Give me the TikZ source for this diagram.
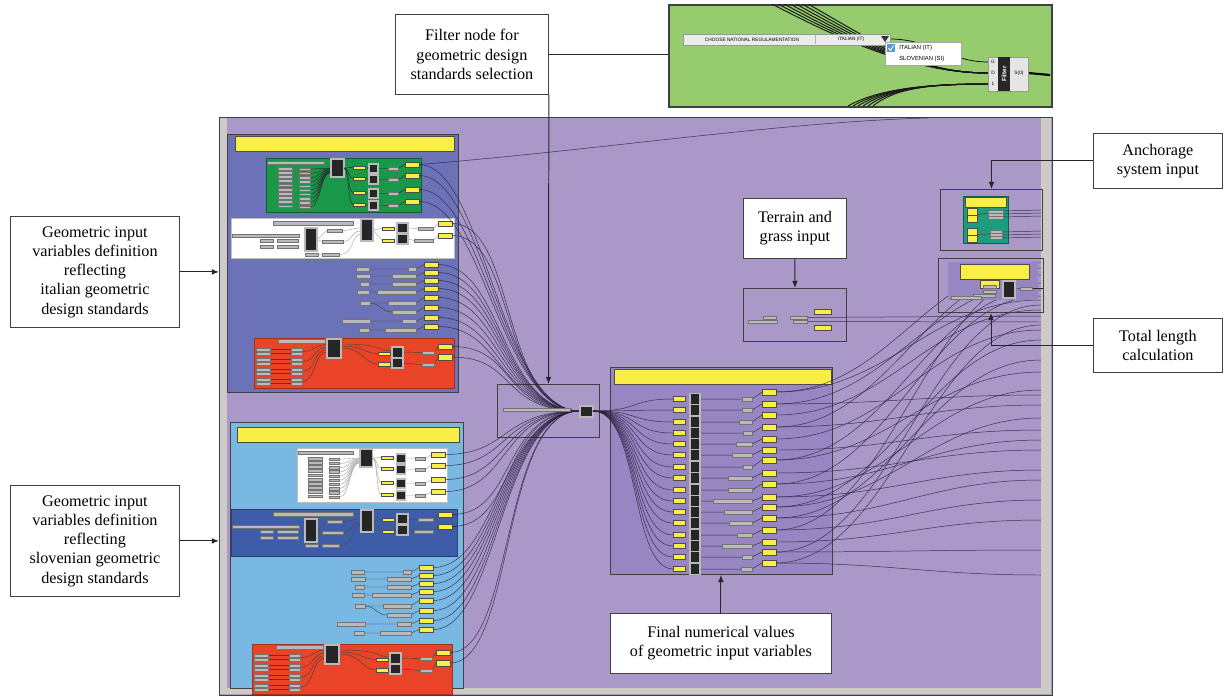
\documentclass[tikz,border=0pt]{standalone}
\usepackage{fontspec}
\setmainfont{Liberation Serif}
\setsansfont{Liberation Sans}
\usetikzlibrary{positioning,arrows.meta}

\definecolor{canvaspurple}{RGB}{169,152,200}
\definecolor{innerpurple}{RGB}{152,134,194}
\definecolor{groupblue}{RGB}{108,114,184}
\definecolor{groupsky}{RGB}{122,184,228}
\definecolor{bandblue}{RGB}{62,92,168}
\definecolor{leafgreen}{RGB}{24,152,72}
\definecolor{brickred}{RGB}{234,68,40}
\definecolor{panelgreen}{RGB}{150,204,110}
\definecolor{tealgreen}{RGB}{30,156,128}
\definecolor{ghyellow}{RGB}{248,238,70}
\definecolor{ghgrey}{RGB}{186,186,186}
\definecolor{stripgrey}{RGB}{206,202,198}
\definecolor{checkblue}{RGB}{90,150,215}
\definecolor{wirecol}{RGB}{40,30,60}

\newcommand{\stackblock}[1]{%
  \draw[gbar] (1,3) rectangle (58,6);
  \foreach \r in {0,...,9} {
    \draw[#1,line width=0.3pt] (44,11.2+4.2*\r) .. controls (55,11.2+4.2*\r) and (54,10+0.5*\r) .. (65,10+0.5*\r);
    \draw[gbar] (12,9+4.2*\r) rectangle (26,11.8+4.2*\r);
    \draw[gbar] (33,10+4.2*\r) rectangle (44,12.5+4.2*\r);
  }
  \draw[bcomp] (65,1) rectangle (78,19);
  \foreach \yy in {6,17,31,43} {
    \draw[#1,line width=0.3pt] (78,10) .. controls (83,10) and (82,\yy+3.5) .. (87,\yy+3.5);
    \draw[#1,line width=0.3pt] (99,\yy+3.5) -- (103,\yy+4.5) (112,\yy+4.5) -- (122,\yy+4.5) (132,\yy+4.5) -- (139,\yy+0.5);
    \draw[ybox] (87,\yy+2) rectangle (99,\yy+5);
    \draw[bcomp] (103,\yy) rectangle (112,\yy+9);
    \draw[gbar] (122,\yy+3) rectangle (132,\yy+6);
    \draw[ybox] (139,\yy-2) rectangle (153,\yy+3);
  }
}

\newcommand{\mixblock}[1]{%
  \draw[#1,line width=0.3pt] (86,21.5) -- (96,12.5) (86,21.5) -- (91,23.5) (87,36.5) -- (91,36.5)
    (111,12.5) .. controls (120,12.5) and (122,10) .. (130,10)
    (112,23.5) .. controls (122,23.5) and (120,13) .. (130,13)
    (108,36.5) .. controls (124,36.5) and (120,16) .. (130,16)
    (122,5) -- (130,5)
    (142,12) -- (151,10.5) (142,12) -- (151,22.5)
    (163,10.5) -- (166,10) (163,22.5) -- (166,21)
    (177,10) -- (187,10.5) (177,21) -- (183,22.5)
    (202,10.5) -- (207,5.5) (202,22.5) -- (207,17.5);
  \draw[gbar] (42,3) rectangle (122,7);
  \draw[gbar] (1,16) rectangle (68,19);
  \draw[gbar] (29,21) rectangle (42,24);
  \draw[gbar] (29,27) rectangle (42,30);
  \draw[gbar] (46,21) rectangle (67,24);
  \draw[gbar] (46,27) rectangle (67,30);
  \draw[bcomp] (74,10) rectangle (86,33);
  \draw[gbar] (96,11) rectangle (111,14);
  \draw[gbar] (91,22) rectangle (112,25);
  \draw[gbar] (74,35) rectangle (87,38);
  \draw[gbar] (91,35) rectangle (108,38);
  \draw[bcomp] (130,1) rectangle (142,23);
  \draw[ybox] (151,9) rectangle (163,12);
  \draw[ybox] (151,21) rectangle (163,24);
  \draw[bcomp] (166,5) rectangle (177,15);
  \draw[bcomp] (166,16) rectangle (177,26);
  \draw[gbar] (187,9) rectangle (202,12);
  \draw[gbar] (183,21) rectangle (202,24);
  \draw[ybox] (207,3) rectangle (221,8);
  \draw[ybox] (207,15) rectangle (221,20);
}

\newcommand{\valuerows}{%
  \foreach \lx/\lw/\ly/\mx/\yy in {356/369/269/408/262,356/370/276/392/270,360/369/284/392/278,357/369/292/377/286,360/370/303/388/295,342/370/321/402/315,359/369/330/385/324} {
    \draw[lwire] (\lw,\ly) -- (\mx,\ly) (416,\ly) -- (424,\yy+2.5);
    \draw[gbar] (\lx,\ly-1.8) rectangle (\lw,\ly+1.8);
    \draw[gbar] (\mx,\ly-1.8) rectangle (416,\ly+1.8);
    \draw[ybox] (424,\yy) rectangle (438,\yy+5);
  }
  \draw[lwire] (370,303) .. controls (380,303) and (382,312) .. (392,312) (416,312) -- (424,307.5);
  \draw[gbar] (392,310.2) rectangle (416,313.8);
  \draw[ybox] (424,305) rectangle (438,310);
}

\newcommand{\redblock}{%
  \draw[fill=brickred,draw=brickred!70!black,line width=0.3pt] (0,0) rectangle (200,50);
  \draw[gbar] (24,1) rectangle (71,5);
  \foreach \r in {10,20,30,40} {
    \draw[lwire] (16,\r+1.5) -- (37,\r+1.5) (16,\r+5.5) -- (37,\r+5.5);
    \draw[lwire] (48,\r+3.5) .. controls (62,\r+3.5) and (60,4+\r/4) .. (73,4+\r/4);
    \draw[gbar] (2,\r) rectangle (16,\r+3);
    \draw[gbar] (2,\r+4) rectangle (16,\r+7);
    \draw[gbar] (37,\r) rectangle (48,\r+3);
    \draw[gbar] (37,\r+4) rectangle (48,\r+7);
  }
  \draw[lwire] (87,8) .. controls (110,8) and (110,15.5) .. (124,15.5)
    (87,10) .. controls (110,10) and (110,26) .. (124,26)
    (87,6) .. controls (130,6) and (125,13) .. (138,13)
    (136,15.5) -- (138,15) (136,26) -- (138,25)
    (149,14) -- (168,14.5) (149,25) -- (168,26.5)
    (180,14.5) -- (184,8.5) (180,26.5) -- (184,19);
  \draw[bcomp] (73,1) rectangle (87,20);
  \draw[ybox] (124,14) rectangle (136,17);
  \draw[ybox] (124,24) rectangle (136,28);
  \draw[bcomp] (138,9) rectangle (149,20);
  \draw[bcomp] (138,20) rectangle (149,30);
  \draw[gbar] (168,13) rectangle (180,16);
  \draw[gbar] (168,25) rectangle (180,28);
  \draw[ybox] (184,6) rectangle (198,11);
  \draw[ybox] (184,16) rectangle (198,22);
}

\begin{document}
\begin{tikzpicture}[x=0.025cm,y=-0.025cm,
  sz/.style 2 args={minimum width=#1*0.025cm,minimum height=#2*0.025cm},
  callout/.style={draw=black!75,fill=white,line width=0.6pt,inner sep=0pt,align=center,
    font=\fontsize{11.5}{13.7}\selectfont,anchor=north west},
  grp/.style={draw=black!75,line width=0.7pt,inner sep=0pt,anchor=north west},
  arr/.style={-{Latex[length=5pt,width=4pt]},line width=0.7pt,black!85},
  lead/.style={line width=0.7pt,black!85},
  ybox/.style={fill=ghyellow,draw=black!70,line width=0.35pt},
  gbar/.style={fill=ghgrey,draw=black!55,line width=0.3pt},
  bcomp/.style={fill=black!85,draw=ghgrey,line width=0.9pt},
  wire/.style={draw=wirecol,line width=0.35pt,opacity=0.85},
  lwire/.style={draw=black!75,line width=0.3pt},
  tiny/.style={inner sep=0pt,font=\sffamily\fontsize{3.4}{4}\selectfont}
]
\useasboundingbox (0,0) rectangle (1224,697);

% canvas
\node[grp,fill=canvaspurple,sz={833}{578},line width=1pt] (canvas) at (219,117) {};
\fill[stripgrey] (220,118) rectangle (227,694);
\fill[stripgrey] (1041,118) rectangle (1051,694);
\fill[stripgrey] (227,688) rectangle (1041,694);

% regulation panel
\node[grp,fill=panelgreen,sz={383}{102},line width=1.2pt] (greenpanel) at (668,4) {};
\begin{scope}
  \clip (668,4) rectangle (1051,106);
  \foreach \s in {0,...,6}
    \draw[black!90,line width=0.7pt] ({772+6*\s},4) .. controls ({850+5*\s},45) and (920,73) .. (988,73);
  \foreach \s in {0,...,5}
    \draw[black!90,line width=0.7pt] ({848+5*\s},106) .. controls ({880+3*\s},88) and (930,84) .. (988,84);
\end{scope}
\draw[black,line width=0.5pt] (890,39) .. controls (930,39) and (950,62) .. (988,62);
\draw[black,line width=1.5pt] (1028,73) -- (1050,75);
\draw[fill=black!8,draw=black!40,line width=0.4pt] (683,34) rectangle (890,45);
\draw[black!30] (815,35) -- (815,44);
\node[tiny] (regname) at (752,39.5) {CHOOSE NATIONAL REGULAMENTATION};
\node[tiny] (regvalue) at (851,39.5) {ITALIAN (IT)};
\fill[black!80] (881,36) -- (889,36) -- (885,42) -- cycle;
\draw[fill=white,draw=black!35,line width=0.4pt] (885,42) rectangle (961,65);
\fill[checkblue] (887,44) rectangle (895,52);
\draw[white,line width=0.6pt] (888.5,48) -- (890.5,50.5) -- (893.5,45.5);
\node[tiny,font=\sffamily\fontsize{4.2}{5}\selectfont,anchor=west] (optit) at (899,48) {ITALIAN (IT)};
\node[tiny,font=\sffamily\fontsize{4.2}{5}\selectfont,anchor=west] (optsi) at (899,58.5) {SLOVENIAN (SI)};
\draw[fill=black!10,draw=black!40,line width=0.4pt] (988,57) rectangle (1028,91);
\fill[black!85] (998,57) rectangle (1010,91);
\node[tiny,rotate=90,text=white,font=\sffamily\bfseries\fontsize{4.5}{5}\selectfont] (filtername) at (1004,74) {Filter};
\node[tiny] (ing) at (993,62) {G};
\node[tiny] (ind) at (993,73) {D};
\node[tiny] (inone) at (993,84) {1};
\node[tiny] (outs) at (1019,73) {S(0)};

% italian group
\node[grp,fill=groupblue,sz={231}{258}] (upgroup) at (227,134) {};
\draw[ybox] (235,136) rectangle (454,151);
\begin{scope}[shift={(266,158)}]
  \draw[fill=leafgreen,draw=leafgreen!60!black,line width=0.3pt] (0,0) rectangle (155,54);
  \stackblock{black!85}
\end{scope}
\begin{scope}[shift={(231,218)}]
  \draw[fill=white,draw=black!25,line width=0.3pt] (0,0) rectangle (223,40);
  \mixblock{black!35}
\end{scope}
\valuerows
\begin{scope}[shift={(254,338)}]
  \redblock
\end{scope}

% slovenian group
\node[grp,fill=groupsky,sz={233}{266}] (lowgroup) at (230,422) {};
\draw[ybox] (237,427) rectangle (459,442);
\begin{scope}[shift={(297,448)},xscale=0.968]
  \draw[fill=white,draw=black!25,line width=0.3pt] (0,0) rectangle (155,54);
  \stackblock{black!35}
\end{scope}
\begin{scope}[shift={(231,509)}]
  \draw[fill=bandblue,draw=bandblue!70!black,line width=0.3pt] (0,0) rectangle (226,47);
  \mixblock{black!70}
\end{scope}
\begin{scope}[shift={(-5,303)}]
  \valuerows
\end{scope}
\begin{scope}[shift={(252,644)}]
  \redblock
\end{scope}

% filter
\node[grp,sz={102}{53}] (filterbox) at (497,384) {};
\foreach \ox/\oy in {419/164.5,419/175.5,419/189.5,419/201.5,452/223.5,452/235.5,438/264.5,438/272.5,438/280.5,438/288.5,438/297.5,438/307.5,438/317.5,438/326.5,452/346.5,452/357,
  445/454.5,445/465.5,445/479.5,445/491.5,452/514.5,452/526.5,433/567.5,433/575.5,433/583.5,433/591.5,433/600.5,433/610.5,433/620.5,433/629.5,450/652.5,450/663}
  \draw[wire] (\ox,\oy) .. controls ({\ox+65},\oy) and (500,411) .. (580,411);
\draw[wire] (419,164.5) .. controls (600,150) and (780,122) .. (928,118);
\draw[gbar] (503,408) rectangle (570,411.5);
\draw[lwire] (570,410) -- (580,411);
\draw[bcomp] (580,406) rectangle (593,417);

% final values
\node[grp,fill=innerpurple,sz={222}{207}] (finalbox) at (610,367) {};
\draw[ybox] (614,369) rectangle (831,384);
\foreach \yi/\gx/\ry in {399/742/392,410/742/404,422/739/415,433/743/427,444/736/439,455/732/450,467/743/460,478/728/473,490/728/484,501/713/497,512/724/507,523/729/518,535/737/530,546/722/542,557/742/552,569/741/563} {
  \draw[wire] (593,411) .. controls (640,411) and (630,\yi) .. (673,\yi);
  \draw[wire] (700,\yi) -- (\gx,\yi) (752,\yi) -- (762,\ry);
  \draw[ybox] (673,\yi-2.5) rectangle (685,\yi+2.5);
  \draw[bcomp] (690,\yi-5.5) rectangle (700,\yi+5.5);
  \draw[gbar] (\gx,\yi-1.8) rectangle (752,\yi+1.8);
  \draw[ybox] (762,\ry-3) rectangle (776,\ry+3);
}
\foreach \ry/\t in {392/262,392/300,404/395,404/283,415/310,427/405,427/268,439/330,450/430,460/290,460/372,473/450,484/440,484/296,497/470,497/390,507/340,507/418,518/480,518/360,530/500,530/275,542/520,552/550,552/305,563/575,563/325}
  \draw[wire] (776,\ry) .. controls (890,\ry) and (930,\t) .. (1041,\t);

% terrain
\node[grp,sz={103}{53}] (terrainbox) at (743,288) {};
\draw[wire] (807,317.5) -- (1041,316) (807,321.5) -- (1041,322);
\draw[gbar] (763,316) rectangle (776,319);
\draw[gbar] (748,320) rectangle (777,323);
\draw[gbar] (790,316) rectangle (807,319);
\draw[gbar] (793,320) rectangle (807,323);
\draw[ybox] (814,309) rectangle (831,314);
\draw[ybox] (814,325) rectangle (831,330);

% anchorage
\node[grp,sz={102}{61}] (anchorbox) at (940,189) {};
\draw[fill=tealgreen,draw=tealgreen!60!black,line width=0.3pt] (963,196) rectangle (1008,243);
\foreach \yy in {211,214,217,232,235,238}
  \draw[wire] (1003,\yy) -- (1041,\yy-1);
\draw[ybox] (965,197) rectangle (1006,207);
\draw[ybox] (967,208) rectangle (977,215);
\draw[ybox] (967,215) rectangle (977,222);
\draw[ybox] (967,228) rectangle (977,235);
\draw[ybox] (967,235) rectangle (977,242);
\draw[lwire] (977,215) -- (988,213) (977,235) -- (990,234);
\draw[gbar] (988,210) rectangle (1003,213);
\draw[gbar] (988,213) rectangle (1003,216);
\draw[gbar] (988,216) rectangle (1003,219);
\draw[gbar] (990,230) rectangle (1002,233);
\draw[gbar] (990,233) rectangle (1002,236);
\draw[gbar] (990,236) rectangle (1002,239);

% total length
\node[grp,sz={105}{54}] (lengthbox) at (938,258) {};
\fill[innerpurple] (948,262) rectangle (1038,300);
\draw[ybox] (960,264) rectangle (1029,279);
\draw[ybox] (980,280) rectangle (999,288);
\draw[lwire] (1015,289) -- (1020,288.5);
\draw[black!85,line width=0.6pt] (1032,288.5) -- (1043,288.5);
\draw[gbar] (983,285) rectangle (996,288);
\draw[gbar] (983,290) rectangle (996,293);
\draw[gbar] (973,294) rectangle (995,297);
\draw[gbar] (951,296) rectangle (981,299);
\draw[bcomp] (1003,281) rectangle (1015,298);
\draw[gbar] (1020,287) rectangle (1032,290);

% callouts
\node[callout,sz={169}{111}] (italianlbl) at (10,216) {Geometric input\\variables definition\\reflecting\\italian geometric\\design standards};
\node[callout,sz={169}{111}] (slovenianlbl) at (10,485) {Geometric input\\variables definition\\reflecting\\slovenian geometric\\design standards};
\node[callout,sz={153}{80}] (filterlbl) at (395,14) {Filter node for\\geometric design\\standards selection};
\node[callout,sz={103}{60}] (terrainlbl) at (743,198) {Terrain and\\grass input};
\node[callout,sz={129}{55}] (anchorlbl) at (1093,133) {Anchorage\\system input};
\node[callout,sz={129}{54}] (lengthlbl) at (1093,318) {Total length\\calculation};
\node[callout,sz={221}{60}] (finallbl) at (610,613) {Final numerical values\\of geometric input variables};

\draw[arr] (italianlbl.east) -- (italianlbl.east -| canvas.west);
\draw[arr] (slovenianlbl.east) -- (slovenianlbl.east -| canvas.west);
\draw[lead] (filterlbl.east) -- (filterlbl.east -| greenpanel.west);
\draw[arr] (filterlbl.south east) -- (filterbox.north);
\draw[arr] (terrainlbl.south) -- (terrainbox.north);
\draw[arr] (finallbl.north) -- (finallbl.north |- finalbox.south);
\draw[arr] (anchorlbl.west) -| (anchorbox.north);
\draw[arr] (lengthlbl.west) -| (lengthbox.south);
\end{tikzpicture}
\end{document}
